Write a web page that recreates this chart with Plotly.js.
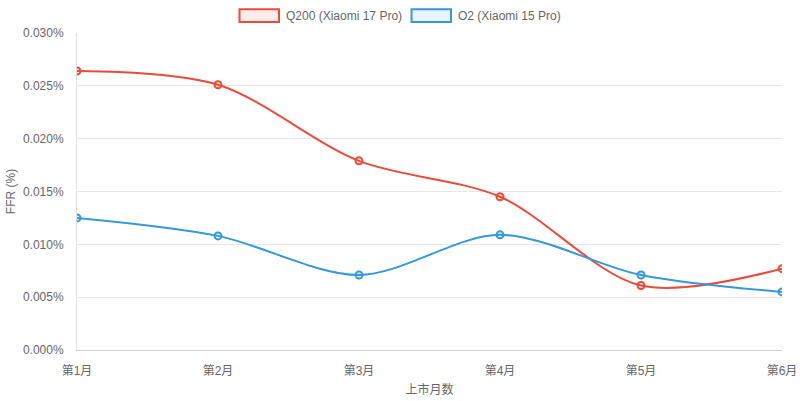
<!DOCTYPE html>
<html>
<head>
<meta charset="utf-8">
<script src="https://cdn.plot.ly/plotly-3.0.1.min.js"></script>
<style>
  html, body { margin: 0; padding: 0; background: #fff; }
  #chart { width: 800px; height: 401px; }
</style>
</head>
<body>
<div id="chart"></div>
<script>
// months after launch
var months = ['第1月', '第2月', '第3月', '第4月', '第5月', '第6月'];
// FFR values, in percent
var q200 = [0.0264, 0.0251, 0.0179, 0.0145, 0.0061, 0.0077];
var o2 = [0.0125, 0.0108, 0.0071, 0.0109, 0.0071, 0.0055];
var seriesNames = ['Q200 (Xiaomi 17 Pro)', 'O2 (Xiaomi 15 Pro)'];
var yTicks = [0, 0.005, 0.01, 0.015, 0.02, 0.025, 0.03];

var red = '#e74c3c', blue = '#3498db';
var font = 'Liberation Sans, Arial, Noto Sans CJK SC, sans-serif';

function line(y, color, fill) {
  return {
    x: months,
    y: y,
    mode: 'lines+markers',
    line: {color: color, width: 2, shape: 'spline', smoothing: 0.9},
    marker: {size: 7, color: fill, line: {color: color, width: 2}},
    hoverinfo: 'skip',
    showlegend: false
  };
}

var traces = [
  line(q200, red, 'rgba(231,76,60,0.1)'),
  line(o2, blue, 'rgba(52,152,219,0.1)')
];

// legend boxes drawn as shapes so they look like boxed swatches
var shapes = [
  {type: 'rect', xref: 'paper', yref: 'paper', x0: 0.2305, x1: 0.2865, y0: 1.035, y1: 1.075,
   line: {color: red, width: 2}, fillcolor: 'rgba(231,76,60,0.1)'},
  {type: 'rect', xref: 'paper', yref: 'paper', x0: 0.4745, x1: 0.5305, y0: 1.035, y1: 1.075,
   line: {color: blue, width: 2}, fillcolor: 'rgba(52,152,219,0.1)'}
];
var annotations = [
  {xref: 'paper', yref: 'paper', x: 0.294, y: 1.055, xanchor: 'left', yanchor: 'middle',
   text: seriesNames[0], showarrow: false, font: {size: 12, color: '#666', family: font}},
  {xref: 'paper', yref: 'paper', x: 0.538, y: 1.055, xanchor: 'left', yanchor: 'middle',
   text: seriesNames[1], showarrow: false, font: {size: 12, color: '#666', family: font}}
];

var layout = {
  width: 800,
  height: 401,
  margin: {l: 77, r: 18, t: 33, b: 51},
  paper_bgcolor: '#fff',
  plot_bgcolor: '#fff',
  font: {family: font, size: 12, color: '#666'},
  showlegend: false,
  xaxis: {
    type: 'category',
    range: [0, 5],
    showgrid: false,
    showline: true,
    linecolor: '#d0d0d0',
    linewidth: 1,
    ticks: '',
    ticklabelstandoff: 10,
    tickfont: {size: 12, color: '#666'},
    title: {text: '上市月数', font: {size: 12, color: '#666'}, standoff: 8},
    zeroline: false,
    fixedrange: true
  },
  yaxis: {
    range: [0, 0.03],
    tickvals: yTicks,
    ticktext: yTicks.map(function(v){ return v.toFixed(3) + '%'; }),
    showgrid: true,
    gridcolor: '#e6e6e6',
    gridwidth: 1,
    showline: true,
    linecolor: '#e0e0e0',
    zeroline: false,
    ticks: '',
    ticklabelstandoff: 10,
    tickfont: {size: 12, color: '#666'},
    title: {text: 'FFR (%)', font: {size: 12, color: '#666'}, standoff: 4},
    fixedrange: true
  },
  shapes: shapes,
  annotations: annotations
};

Plotly.newPlot('chart', traces, layout, {staticPlot: true});
</script>
</body>
</html>
